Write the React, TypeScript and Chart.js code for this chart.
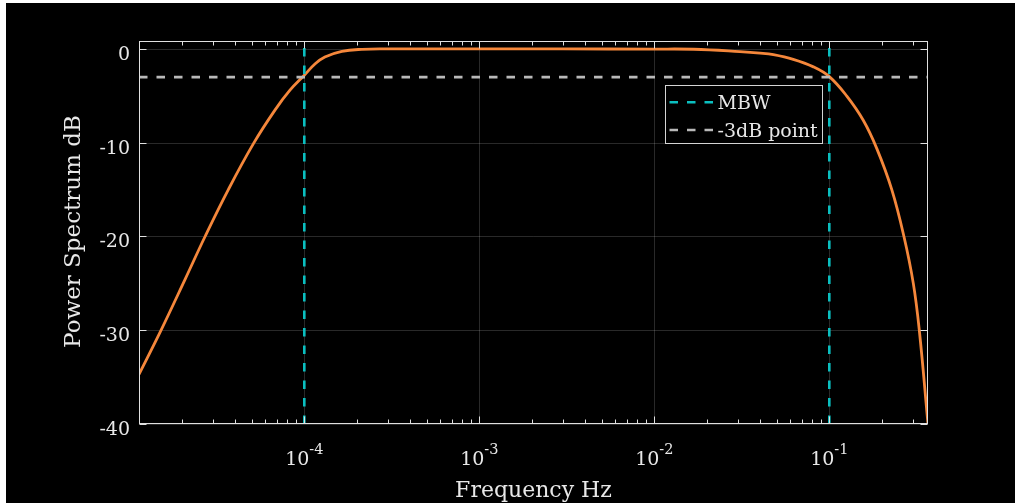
import React, { useEffect, useRef } from 'react';
import { Chart, registerables } from 'chart.js';

Chart.register(...registerables);

// ---- data ----
const freqHz = [
  1.136e-5, 1.5e-5, 2.08e-5, 2.71e-5, 3.68e-5, 5.12e-5, 6.81e-5, 8.28e-5, 1e-4,
  1.15e-4, 1.31e-4, 1.64e-4, 2.13e-4, 3e-4, 1e-3, 3e-3, 1e-2, 1.68e-2, 3.08e-2,
  4.02e-2, 4.79e-2, 6.22e-2, 8.11e-2, 0.1, 0.1256, 0.1563, 0.1866, 0.2275, 0.267,
  0.302, 0.3268, 0.3664,
];
const powerDb = [
  -34.7, -30.2, -24.6, -20.0, -15.0, -10.1, -6.5, -4.4, -2.8,
  -1.6, -0.85, -0.25, -0.04, 0, 0, 0, -0.01, -0.03, -0.28,
  -0.44, -0.61, -1.11, -1.91, -2.95, -5.0, -7.6, -10.6, -15.0, -20,
  -25, -30, -40,
];
const mbwHz = [1e-4, 1e-1];
const halfPowerDb = -3;

const xMin = 1.136e-5;
const xMax = 0.3664;
const yMin = -40;
const yMax = 0.85;

const yTickValues = [0, -10, -20, -30, -40];
const yTickLabels = ['0', '-10', '-20', '-30', '-40'];
const xDecades = [1e-4, 1e-3, 1e-2, 1e-1];
const xTickBases = ['10', '10', '10', '10'];
const xTickExponents = ['-4', '-3', '-2', '-1'];
const legendLabels = ['MBW', '-3dB point'];
const xTitle = 'Frequency Hz';
const yTitle = 'Power Spectrum dB';

const FONT = '"DejaVu Serif", "Liberation Serif", serif';
const TEXT = '#e8e8e8';
const AXIS = '#e0e0e0';
const ORANGE = '#f5873b';
const CYAN = '#0bbfc0';
const GREY = '#b9b9b9';
const DASH = [8.5, 9];

function logTicks(): { v: number; major: boolean }[] {
  const out: { v: number; major: boolean }[] = [];
  const d0 = Math.floor(Math.log10(xMin));
  const d1 = Math.ceil(Math.log10(xMax));
  for (let d = d0; d <= d1; d++) {
    for (let k = 1; k <= 9; k++) {
      const v = k * Math.pow(10, d);
      if (v >= xMin && v <= xMax) out.push({ v, major: k === 1 });
    }
  }
  return out;
}

const axesPlugin = {
  id: 'matlabAxes',
  beforeDatasetsDraw(chart: any) {
    const { ctx, chartArea: a, scales } = chart;
    ctx.save();
    ctx.strokeStyle = 'rgba(255,255,255,0.16)';
    ctx.lineWidth = 1;
    ctx.beginPath();
    for (const v of xDecades) {
      const px = Math.round(scales.x.getPixelForValue(v)) + 0.5;
      ctx.moveTo(px, a.top);
      ctx.lineTo(px, a.bottom);
    }
    for (const v of yTickValues) {
      const py = Math.round(scales.y.getPixelForValue(v)) + 0.5;
      ctx.moveTo(a.left, py);
      ctx.lineTo(a.right, py);
    }
    ctx.stroke();
    ctx.restore();
  },
  afterDatasetsDraw(chart: any) {
    const { ctx, chartArea: a, scales } = chart;
    const L = a.left + 0.5;
    const T = a.top + 0.5;
    const R = a.right - 0.5;
    const B = a.bottom - 0.5;
    ctx.save();
    // box
    ctx.strokeStyle = AXIS;
    ctx.lineWidth = 1;
    ctx.strokeRect(L, T, R - L, B - T);
    // ticks
    ctx.beginPath();
    for (const t of logTicks()) {
      const px = Math.round(scales.x.getPixelForValue(t.v)) + 0.5;
      const len = t.major ? 7 : 4;
      ctx.moveTo(px, B);
      ctx.lineTo(px, B - len);
      ctx.moveTo(px, T);
      ctx.lineTo(px, T + len);
    }
    for (const v of yTickValues) {
      const py = Math.round(scales.y.getPixelForValue(v)) + 0.5;
      ctx.moveTo(L, py);
      ctx.lineTo(L + 7, py);
      ctx.moveTo(R, py);
      ctx.lineTo(R - 7, py);
    }
    ctx.stroke();

    ctx.fillStyle = TEXT;
    // y tick labels
    ctx.font = `19px ${FONT}`;
    ctx.textAlign = 'right';
    ctx.textBaseline = 'alphabetic';
    yTickValues.forEach((v, i) => {
      const py = scales.y.getPixelForValue(v);
      ctx.fillText(yTickLabels[i], a.left - 9, py + 11);
    });
    // x tick labels 10^n
    ctx.textAlign = 'left';
    xDecades.forEach((v, i) => {
      const px = scales.x.getPixelForValue(v);
      ctx.font = `19px ${FONT}`;
      const wb = ctx.measureText(xTickBases[i]).width;
      ctx.font = `14.5px ${FONT}`;
      const we = ctx.measureText(xTickExponents[i]).width;
      const x0 = px - (wb + we) / 2;
      const base = a.bottom + 41;
      ctx.font = `19px ${FONT}`;
      ctx.fillText(xTickBases[i], x0, base);
      ctx.font = `14.5px ${FONT}`;
      ctx.fillText(xTickExponents[i], x0 + wb, base - 11);
    });
    // titles
    ctx.font = `22px ${FONT}`;
    ctx.textAlign = 'center';
    ctx.fillText(xTitle, (a.left + a.right) / 2, a.bottom + 73);
    ctx.save();
    ctx.translate(74, (a.top + a.bottom) / 2 - 1);
    ctx.rotate(-Math.PI / 2);
    ctx.font = `23px ${FONT}`;
    ctx.fillText(yTitle, 0, 0);
    ctx.restore();

    // legend
    const bx = a.left + 526.5;
    const by = a.top + 44.5;
    const bw = 157;
    const bh = 58;
    ctx.fillStyle = '#000';
    ctx.fillRect(bx, by, bw, bh);
    ctx.strokeStyle = '#d4d4d4';
    ctx.lineWidth = 1;
    ctx.strokeRect(bx, by, bw, bh);
    const colors = [CYAN, GREY];
    legendLabels.forEach((lab, i) => {
      const yLine = by + 16.8 + i * 27.7;
      ctx.save();
      ctx.strokeStyle = colors[i];
      ctx.lineWidth = 2.6;
      ctx.setLineDash(DASH);
      ctx.beginPath();
      ctx.moveTo(bx + 4, yLine);
      ctx.lineTo(bx + 50, yLine);
      ctx.stroke();
      ctx.restore();
      ctx.fillStyle = TEXT;
      ctx.font = `19px ${FONT}`;
      ctx.textAlign = 'left';
      ctx.fillText(lab, bx + 52, yLine + 6.8);
    });
    ctx.restore();
  },
};

export default function App() {
  const ref = useRef<HTMLCanvasElement | null>(null);
  useEffect(() => {
    if (!ref.current) return;
    const chart = new Chart(ref.current, {
      type: 'line',
      data: {
        datasets: [
          {
            label: 'MBW',
            data: [
              { x: mbwHz[0], y: yMin },
              { x: mbwHz[0], y: yMax },
              { x: mbwHz[0], y: null },
              { x: mbwHz[1], y: yMin },
              { x: mbwHz[1], y: yMax },
            ] as any,
            borderColor: CYAN,
            borderWidth: 2.6,
            borderDash: DASH,
            pointRadius: 0,
            spanGaps: false,
            tension: 0,
            order: 0,
          },
          {
            label: '-3dB point',
            data: [
              { x: xMin, y: halfPowerDb },
              { x: xMax, y: halfPowerDb },
            ],
            borderColor: GREY,
            borderWidth: 2.8,
            borderDash: DASH,
            pointRadius: 0,
            tension: 0,
            order: 1,
          },
          {
            label: 'Power spectrum',
            data: freqHz.map((f, i) => ({ x: f, y: powerDb[i] })),
            borderColor: ORANGE,
            borderWidth: 2.8,
            pointRadius: 0,
            tension: 0.4,
            order: 2,
          },
        ],
      },
      options: {
        responsive: false,
        maintainAspectRatio: false,
        animation: false,
        layout: { padding: { left: 133, top: 38, right: 87, bottom: 79 } },
        scales: {
          x: { type: 'logarithmic', min: xMin, max: xMax, display: false },
          y: { type: 'linear', min: yMin, max: yMax, display: false },
        },
        plugins: {
          legend: { display: false },
          tooltip: { enabled: false },
        },
      },
      plugins: [axesPlugin],
    } as any);
    return () => chart.destroy();
  }, []);
  return (
    <div
      style={{
        position: 'fixed',
        left: 6,
        top: 3,
        width: 1009,
        height: 500,
        background: '#000',
        overflow: 'hidden',
      }}
    >
      <canvas ref={ref} width={1009} height={500} style={{ display: 'block', width: 1009, height: 500 }} />
    </div>
  );
}
